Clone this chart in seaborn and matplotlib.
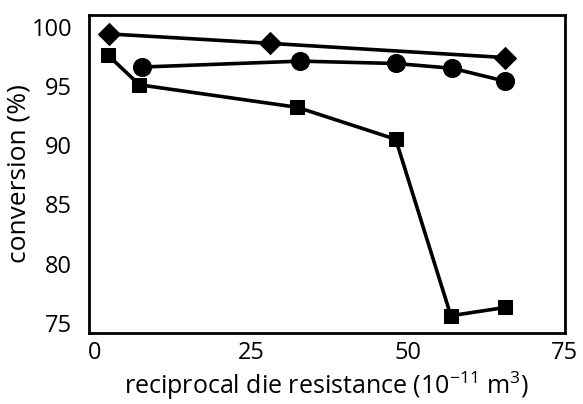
import matplotlib
matplotlib.use("Agg")
import matplotlib.pyplot as plt
import seaborn as sns
import pandas as pd

# values
x_diamond = [2.2, 28.0, 65.5]
y_diamond = [99.4, 98.6, 97.4]

x_circle = [7.5, 32.8, 48.0, 57.0, 65.5]
y_circle = [96.6, 97.1, 96.9, 96.5, 95.4]

x_square = [2.1, 7.1, 32.3, 48.0, 56.8, 65.5]
y_square = [97.6, 95.1, 93.2, 90.5, 75.6, 76.3]

xticks = [0, 25, 50, 75]
yticks = [75, 80, 85, 90, 95, 100]

sns.set_style("white")
plt.rcParams['font.family'] = ['Open Sans', 'DejaVu Sans']
plt.rcParams['mathtext.fontset'] = 'custom'
plt.rcParams['mathtext.rm'] = 'Open Sans'

fig = plt.figure(figsize=(5.83, 4.04), dpi=100)
ax = fig.add_axes([0.152, 0.176, 0.817, 0.787])

series = [
    (x_diamond, y_diamond, 'D', 11.5),
    (x_circle, y_circle, 'o', 13),
    (x_square, y_square, 's', 10),
]
for xs, ys, m, ms in series:
    df = pd.DataFrame({'x': xs, 'y': ys})
    sns.lineplot(data=df, x='x', y='y', ax=ax, color='black', lw=2.6,
                 marker=m, markersize=ms, markeredgecolor='black',
                 markerfacecolor='black', estimator=None, sort=False)

ax.set_xlim(-1.0, 74.7)
ax.set_ylim(74.15, 101.0)
ax.set_xticks(xticks)
ax.set_yticks(yticks)
ax.tick_params(length=0, labelsize=17, labelcolor='black')
ax.tick_params(axis='y', pad=12)
ax.tick_params(axis='x', pad=6)
for s in ax.spines.values():
    s.set_color('black')
    s.set_linewidth(2)

ax.set_xlabel('reciprocal die resistance (10$^{\\mathregular{-11}}$ m$^{\\mathregular{3}}$)',
              fontsize=18, labelpad=3, color='black')
ax.set_ylabel('conversion (%)', fontsize=19, labelpad=0, color='black')

fig.savefig('out.png', dpi=100)
